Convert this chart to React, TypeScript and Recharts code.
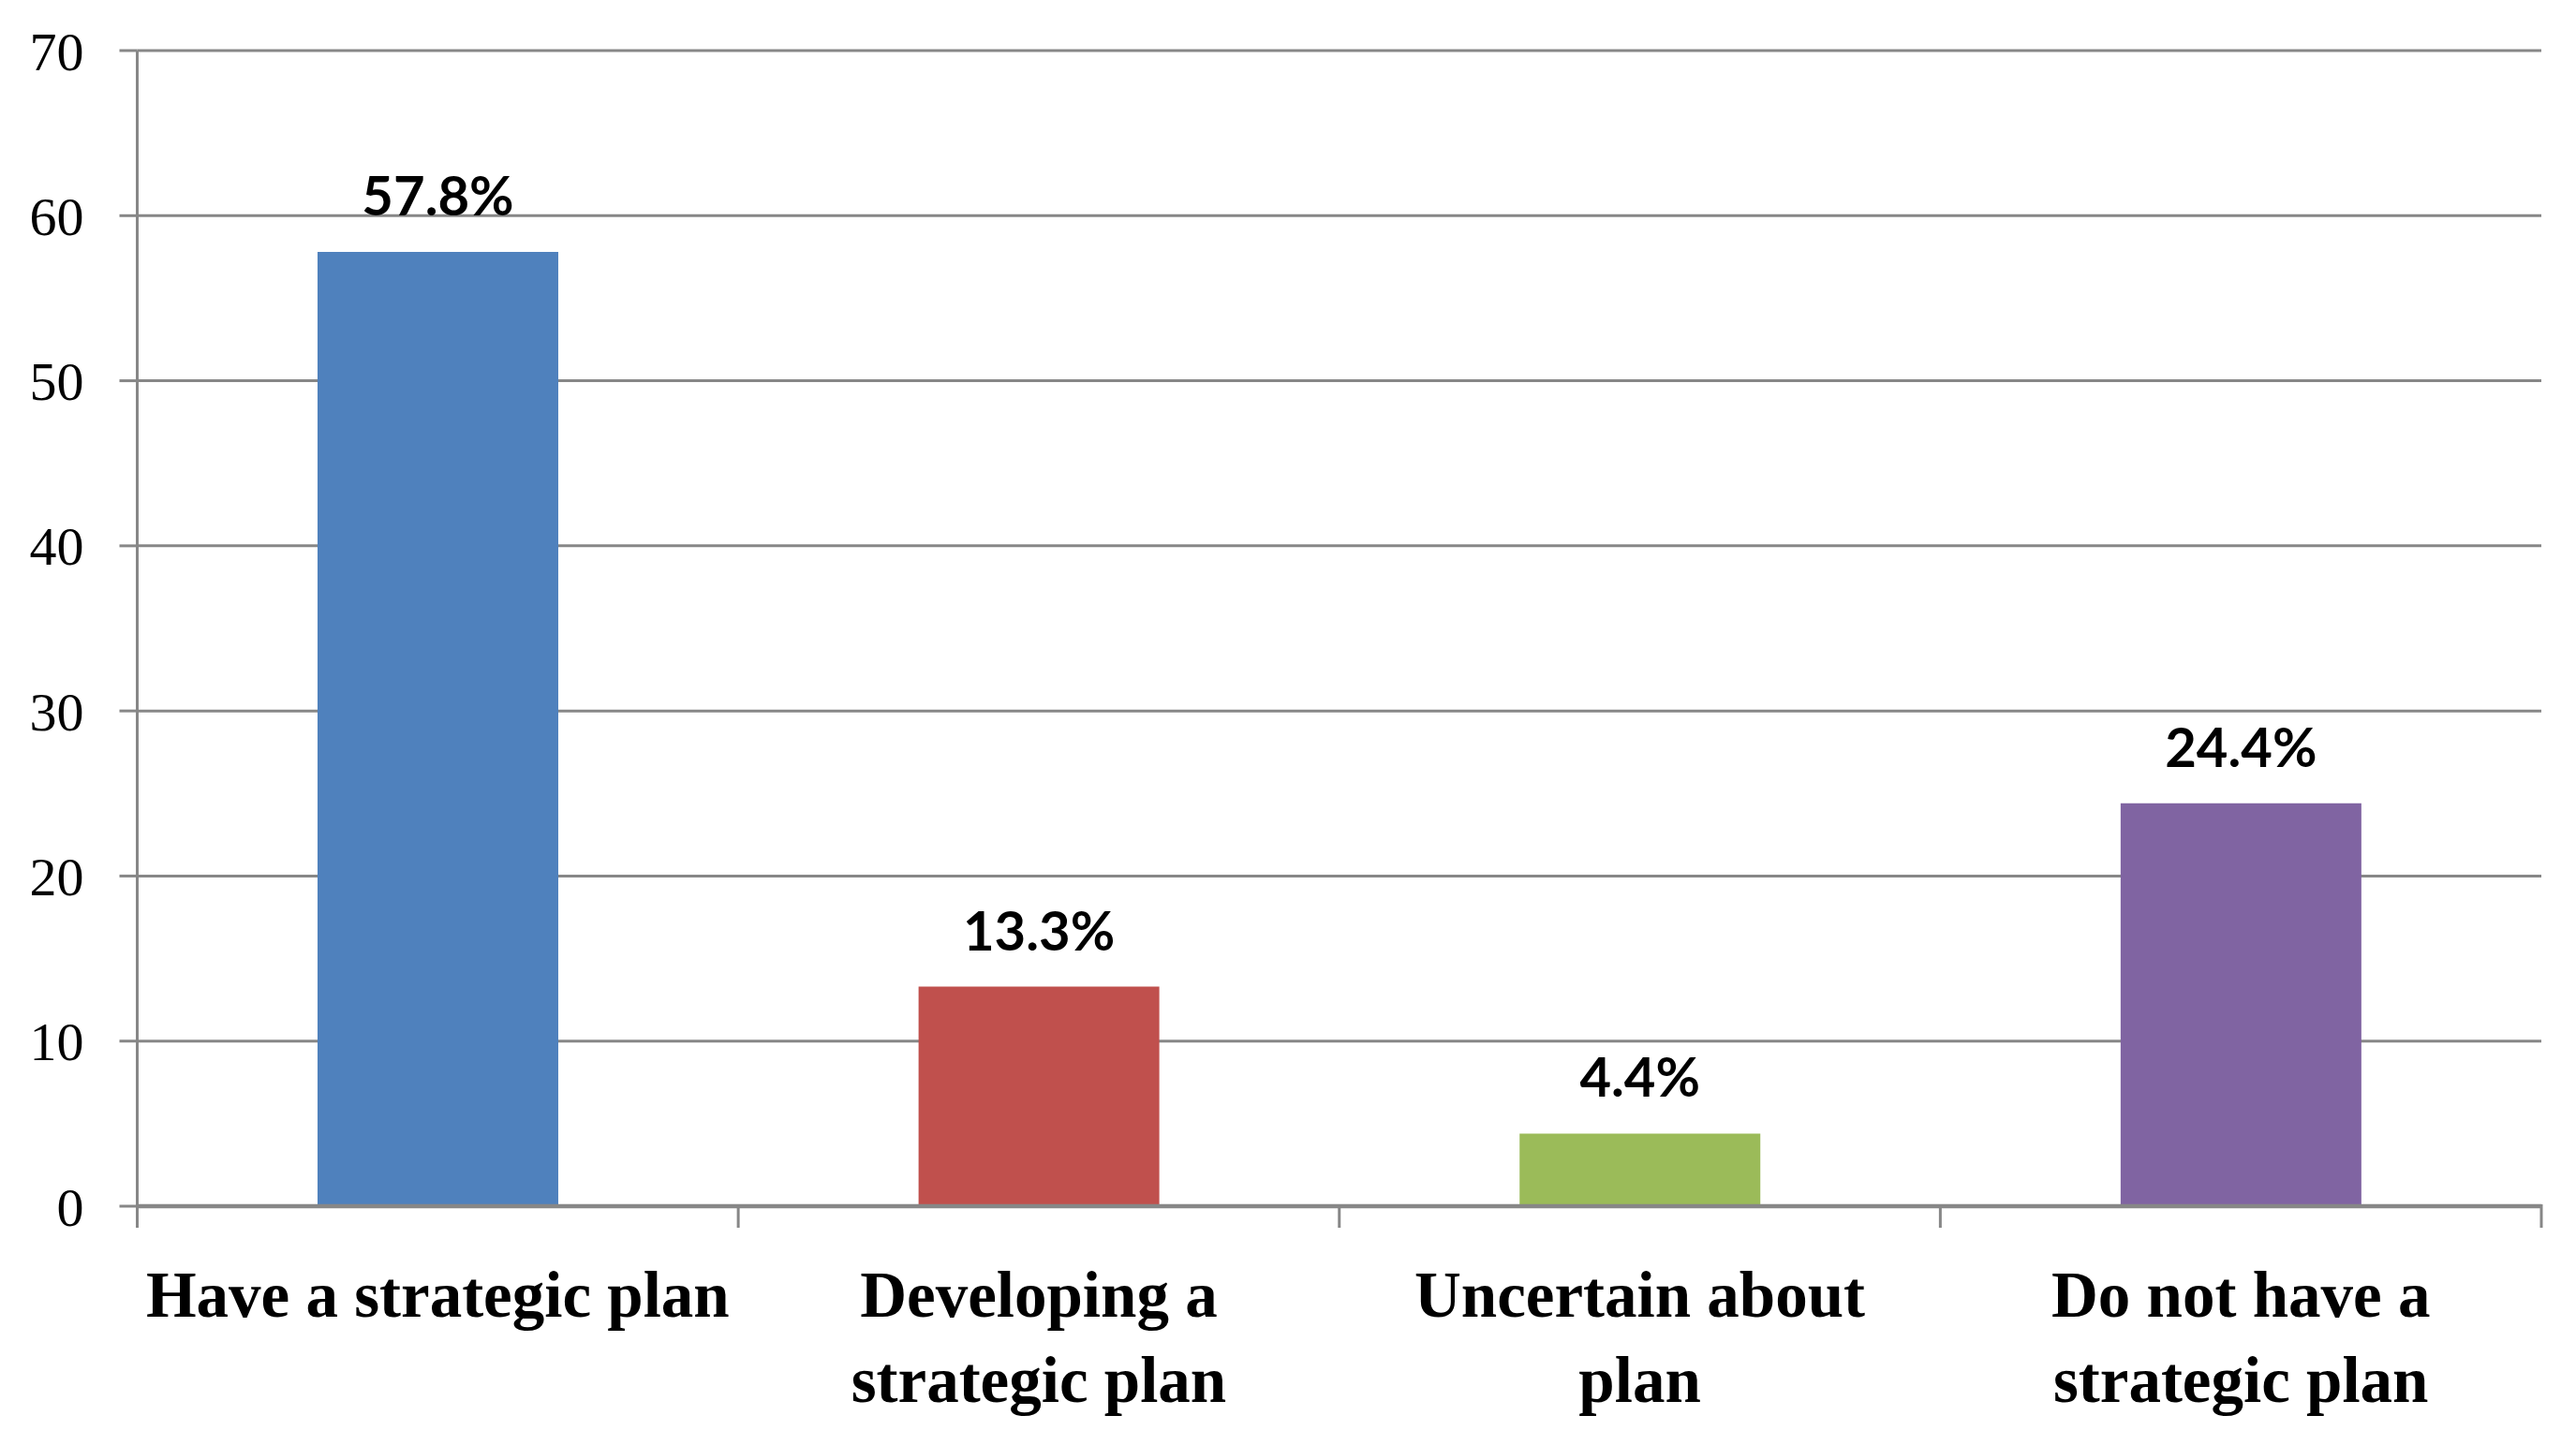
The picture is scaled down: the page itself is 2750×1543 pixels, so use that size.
import React from "react";
import { BarChart, Bar, XAxis, YAxis, CartesianGrid, Cell, LabelList } from "recharts";

const categories = [
  "Have a strategic plan",
  "Developing a strategic plan",
  "Uncertain about plan",
  "Do not have a strategic plan",
];
const values = [57.8, 13.3, 4.4, 24.4];
const barColors = ["#4F81BD", "#C0504D", "#9BBB59", "#8064A2"];
const tickLabelLines: string[][] = [
  ["Have a strategic plan"],
  ["Developing a", "strategic plan"],
  ["Uncertain about", "plan"],
  ["Do not have a", "strategic plan"],
];
const yTicks = [0, 10, 20, 30, 40, 50, 60, 70];

const data = categories.map((name, i) => ({ name, value: values[i] }));

const GRID = "#878787";

const CategoryTick = (props: any) => {
  const { x, y, payload, index } = props;
  const idx = categories.indexOf(payload.value);
  const lines = tickLabelLines[idx] || [payload.value];
  const half = payload.offset || 0;
  const isLast = index === categories.length - 1;
  return (
    <g>
      <line x1={x - half} x2={x - half} y1={y} y2={y + 23} stroke={GRID} strokeWidth={3} />
      {isLast && (
        <line x1={x + half} x2={x + half} y1={y - 2} y2={y + 23} stroke={GRID} strokeWidth={3} />
      )}
      {lines.map((line, i) => (
        <text
          key={i}
          x={x}
          y={y + 118 + i * 91}
          textAnchor="middle"
          fontFamily="'Liberation Serif', 'Times New Roman', serif"
          fontWeight={700}
          fontSize={69}
          fill="#000"
        >
          {line}
        </text>
      ))}
    </g>
  );
};

export default function App() {
  return (
    <div style={{ position: "absolute", left: 0, top: 0, background: "#fff" }}>
      <BarChart
        width={2750}
        height={1543}
        data={data}
        margin={{ top: 54, right: 37, left: 0, bottom: 0 }}
        barCategoryGap="30%"
      >
        <CartesianGrid vertical={false} stroke={GRID} strokeWidth={3} />
        <XAxis
          dataKey="name"
          type="category"
          height={255}
          axisLine={{ stroke: GRID, strokeWidth: 4.5 }}
          tickLine={false}
          tickSize={0}
          tickMargin={0}
          interval={0}
          tick={<CategoryTick />}
        />
        <YAxis
          type="number"
          domain={[0, 70]}
          ticks={yTicks}
          width={146.5}
          tickSize={19}
          tickMargin={38}
          axisLine={{ stroke: GRID, strokeWidth: 3 }}
          tickLine={{ stroke: GRID, strokeWidth: 3 }}
          tick={{
            fontFamily: "'Liberation Serif', 'Times New Roman', serif",
            fontSize: 58,
            fill: "#000",
          }}
          interval={0}
        />
        <Bar dataKey="value" isAnimationActive={false}>
          {data.map((d, i) => (
            <Cell key={d.name} fill={barColors[i]} />
          ))}
          <LabelList
            dataKey="value"
            position="top"
            offset={39}
            formatter={(v: any) => `${v}%`}
            style={{
              fontFamily: "Lato, 'Open Sans', sans-serif",
              fontWeight: 700,
              fontSize: 58,
              fill: "#000",
            }}
          />
        </Bar>
      </BarChart>
    </div>
  );
}
